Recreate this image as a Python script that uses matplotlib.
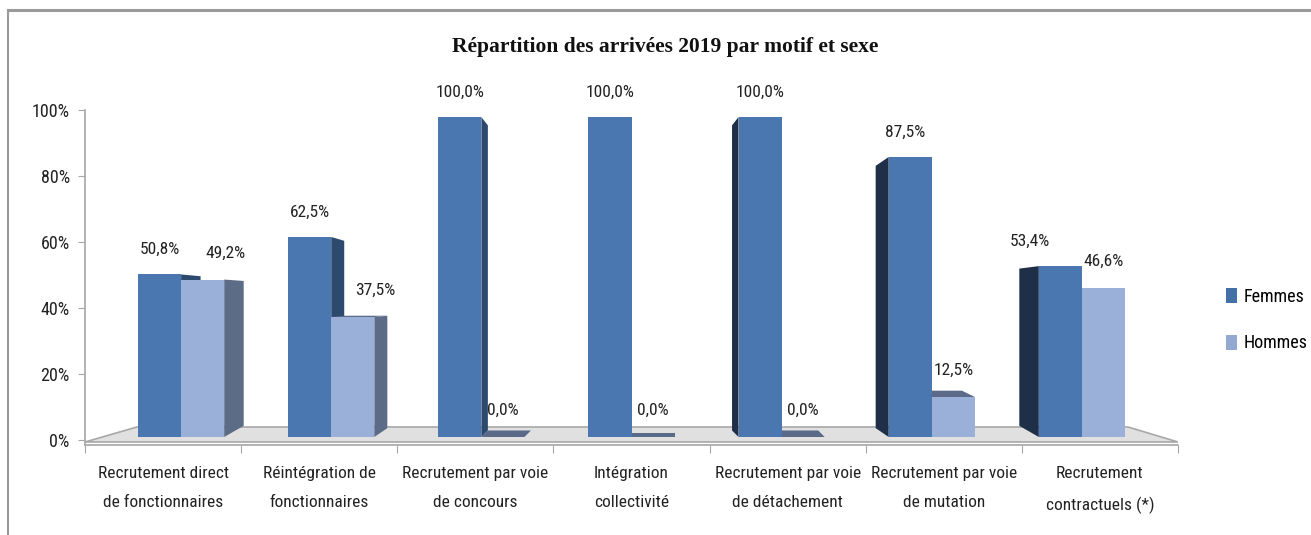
import matplotlib
matplotlib.use('Agg')
import matplotlib.pyplot as plt
from matplotlib.patches import Polygon, Patch
from matplotlib.lines import Line2D

plt.rcParams['font.family'] = ['DejaVu Sans Condensed', 'Roboto Condensed', 'Open Sans Condensed', 'DejaVu Sans']
plt.rcParams['font.stretch'] = 'condensed'

categories = ['Recrutement direct\nde fonctionnaires', 'Réintégration de\nfonctionnaires',
              'Recrutement par voie\nde concours', 'Intégration\ncollectivité',
              'Recrutement par voie\nde détachement', 'Recrutement par voie\nde mutation',
              'Recrutement\ncontractuels (*)']
femmes = [50.8, 62.5, 100.0, 100.0, 100.0, 87.5, 53.4]
hommes = [49.2, 37.5, 0.0, 0.0, 0.0, 12.5, 46.6]
yticks = [0, 20, 40, 60, 80, 100]
title = 'Répartition des arrivées 2019 par motif et sexe'

W, H = 1311, 535
fig = plt.figure(figsize=(W / 100, H / 100), dpi=100)

# axes: x axis line at px 445, top at px 110; 0% bars at 437, 100% at 117
ax = fig.add_axes([85 / W, (H - 445) / H, (1178 - 85) / W, (445 - 110) / H])
ax.set_xlim(0, 7)
ax.set_ylim(-(445 - 437) / 3.2, (437 - 110) / 3.2)

def px_to_data(px, py):
    return (px - 85) / 156.14, (437 - py) / 3.2

# floor
floor = [px_to_data(85, 442), px_to_data(137, 427), px_to_data(1128, 427), px_to_data(1178, 442)]
ax.add_patch(Polygon(floor, closed=True, facecolor='#E0E0E0', edgecolor='#A8A8A8', lw=1.2, zorder=1))

# fake 3D bars
k, w, dd, vp = 0.0385, 0.276, 0.0416, 43.75
f_front, h_front = '#4A77B0', '#9AB0D9'
f_side_l, f_side_r, h_side = '#2B4A6E', '#1F2F47', '#5C6B86'
f_top, h_top = '#3A5A85', '#5A6A88'
off_f = [0, 0, 0, 0, 0, -5, -30]
off_h = [23, 22, 0, 0, 0, 0, 0]

def draw_bar(xl, h, d, f, front, side, top, z):
    xr = xl + w
    edge = xr if d > 0 else xl
    if d != 0:
        ax.add_patch(Polygon([(edge, 0), (edge + d, vp * f), (edge + d, h + (vp - h) * f), (edge, h)],
                             closed=True, facecolor=side, edgecolor='none', zorder=z))
    if h < vp:
        hb = h + (vp - h) * f
        ax.add_patch(Polygon([(xl, h), (xr, h), (xr + d, hb), (xl + d, hb)],
                             closed=True, facecolor=top, edgecolor='none', zorder=z))
    if h > 0:
        ax.bar(xl, h, width=w, align='edge', color=front, edgecolor='none', zorder=z + 0.5)

def label(v):
    return f'{v:.1f}'.replace('.', ',') + '%'

for i in range(len(categories)):
    s = k * (3 - i)
    d = dd * (3 - i)
    f = 0.03 + 0.4 * abs(d)
    xf = i + 0.5 + s - w
    xh = xf + w
    fs = f_side_l if d >= 0 else f_side_r
    if d >= 0:
        draw_bar(xf, femmes[i], d, f, f_front, fs, f_top, 2)
        draw_bar(xh, hommes[i], d, f, h_front, h_side, h_top, 3)
    else:
        draw_bar(xh, hommes[i], d, f, h_front, h_side, h_top, 2)
        draw_bar(xf, femmes[i], d, f, f_front, fs, f_top, 3)
    ax.annotate(label(femmes[i]), (xf + w / 2, femmes[i]), xytext=(off_f[i] * 0.72, 18),
                textcoords='offset points', ha='center', va='center', fontsize=12.5, color='#222222')
    ax.annotate(label(hommes[i]), (xh + w / 2, hommes[i]), xytext=(off_h[i] * 0.72, 19),
                textcoords='offset points', ha='center', va='center', fontsize=12.5, color='#222222')

# axes styling
for sp in ['top', 'right']:
    ax.spines[sp].set_visible(False)
for sp in ['left', 'bottom']:
    ax.spines[sp].set_color('#A6A6A6')
    ax.spines[sp].set_linewidth(1.2)

# y ticks sit on the back wall: 0% at px 440, 100% at px 110
ax.set_yticks([(-3 + 3.3 * v) / 3.2 for v in yticks])
ax.set_yticklabels([f'{v}%' for v in yticks], fontsize=13, color='#222222')
ax.tick_params(axis='y', length=5, color='#A6A6A6', pad=6)

ax.set_xticks(range(8))
ax.set_xticklabels([])
ax.set_xticks([i + 0.5 for i in range(len(categories))], minor=True)
ax.set_xticklabels(categories, minor=True, fontsize=12.5, color='#222222', linespacing=2.15)
ax.tick_params(axis='x', which='major', length=6, color='#A6A6A6', direction='out')
ax.tick_params(axis='x', which='minor', length=0, pad=15)

fig.text(665 / W, 1 - 47 / H, title, ha='center', va='center', fontsize=15.5, fontweight='bold',
         family=['DejaVu Serif Condensed', 'Liberation Serif', 'DejaVu Serif'], color='#111111')

handles = [Patch(facecolor='#4470A8', edgecolor='none'), Patch(facecolor='#94A9D2', edgecolor='none')]
fig.legend(handles, ['Femmes', 'Hommes'], loc='center left', bbox_to_anchor=(1226 / W, 1 - 320 / H),
           frameon=False, fontsize=13, handlelength=0.6, handleheight=0.9, handletextpad=0.4,
           labelspacing=1.6, borderpad=0, borderaxespad=0)

# chart frame (cropped on right and bottom)
fig.add_artist(Line2D([8 / W, 1], [1 - 10 / H, 1 - 10 / H], color='#9A9A9A', lw=2.2))
fig.add_artist(Line2D([8 / W, 8 / W], [0, 1 - 10 / H], color='#9A9A9A', lw=1.5))

fig.savefig('out.png', dpi=100)
